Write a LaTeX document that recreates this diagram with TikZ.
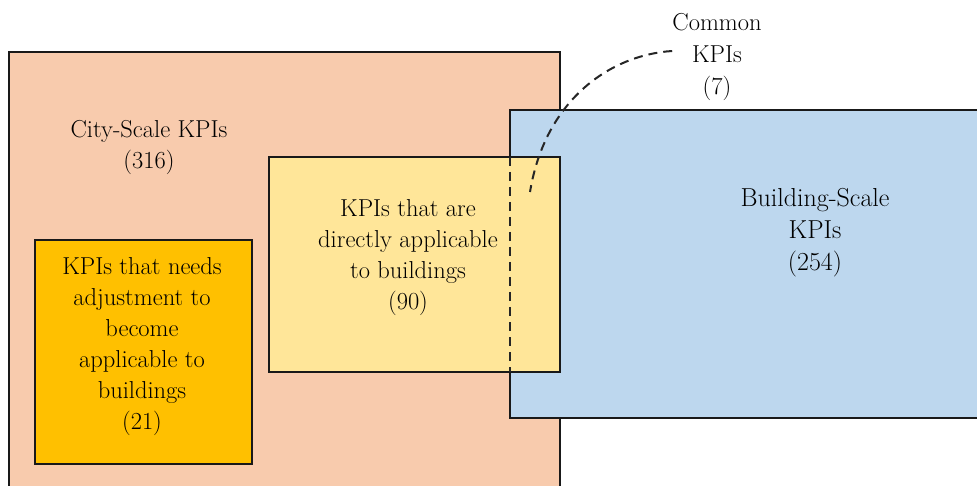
\documentclass[tikz,border=0pt]{standalone}
\usepackage{fontspec}
\definecolor{cityfill}{HTML}{F8CBAD}
\definecolor{bldgfill}{HTML}{BDD7EE}
\definecolor{directfill}{HTML}{FFE699}
\definecolor{adjustfill}{HTML}{FFC000}
\tikzset{
  region/.style={draw=black!90, line width=2pt, inner sep=0pt, outer sep=0pt},
  label/.style={align=center, inner sep=0pt, text=black,
    font=\fontsize{24.5}{31}\selectfont},
  guide/.style={draw=black!85, line width=2pt, dash pattern=on 9pt off 6pt}
}
\begin{document}
\begin{tikzpicture}[x=1pt, y=-1pt]
  \useasboundingbox (0,0) rectangle (977,486);
  \clip (0,0) rectangle (977,486);
  % regions, back to front
  \node[region, fill=cityfill, anchor=north west,
        minimum width=551pt, minimum height=460pt] (city) at (9,52) {};
  \node[region, fill=bldgfill, anchor=north west,
        minimum width=480pt, minimum height=308pt] (bldg) at (510,110) {};
  \node[region, fill=directfill, anchor=north west,
        minimum width=291pt, minimum height=215pt] (direct) at (269,157) {};
  \node[region, fill=adjustfill, anchor=north west,
        minimum width=217pt, minimum height=224pt] (adjust) at (35,240) {};
  % hidden edge of the building-scale region inside the overlap
  \draw[guide] (bldg.north west |- direct.north) -- (bldg.north west |- direct.south);
  % texts
  \node[label] (citytxt) at (149,148) {City-Scale KPIs\\(316)};
  \node[label] (directtxt) at (408,258) {KPIs that are\\directly applicable\\to buildings\\(90)};
  \node[label] (adjusttxt) at (142,347) {KPIs that needs\\adjustment to\\become\\applicable to\\buildings\\(21)};
  \node[label, font=\fontsize{26}{32}\selectfont] (bldgtxt) at (815,233) {Building-Scale\\KPIs\\(254)};
  \node[label, font=\fontsize{24.5}{32}\selectfont] (commontxt) at (717,57) {Common\\KPIs\\(7)};
  % pointer from the common label into the overlap
  \coordinate (overlap) at (530,192);
  \draw[guide] (commontxt.west |- 0,51) .. controls (610,55) and (545,100) .. (overlap);
\end{tikzpicture}
\end{document}
